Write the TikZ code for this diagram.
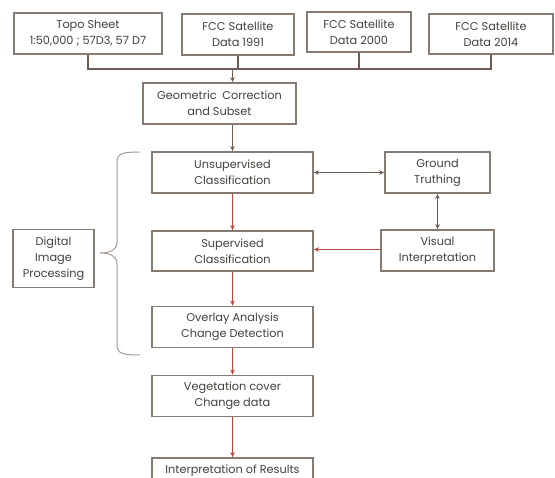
\documentclass[tikz,border=0pt]{standalone}
\usepackage{fontspec}
\setmainfont{Poppins}
\usetikzlibrary{arrows.meta,calc}
\definecolor{boxc}{HTML}{857B72}
\definecolor{linec}{HTML}{6E5C52}
\definecolor{redc}{HTML}{B5473C}
\definecolor{txtc}{HTML}{45403C}
\definecolor{bracec}{HTML}{A39A92}
\tikzset{
  bx/.style={draw=boxc, line width=1.8pt, fill=white, align=center, inner sep=1pt,
    text=txtc, font=\fontsize{11.3}{16}\selectfont},
  conn/.style={draw=linec, line width=1.1pt},
  dk/.style={conn, -{Stealth[length=5pt,width=4.5pt]}},
  dkb/.style={conn, {Stealth[length=5pt,width=4.5pt]}-{Stealth[length=5pt,width=4.5pt]}},
  rd/.style={draw=redc, line width=1pt, -{Stealth[length=5pt,width=4.5pt]}},
}
\begin{document}
\begin{tikzpicture}[x=1pt,y=-1pt]
\useasboundingbox (0,0) rectangle (555,478);
\clip (0,0) rectangle (555,478);
\node[bx, minimum width=148pt, minimum height=41pt] (topo) at (88,33.5) {Topo Sheet\\1:50,000 ; 57D3, 57 D7};
\node[bx, minimum width=112pt, minimum height=41pt] (f91) at (238,34.5) {FCC Satellite\\Data 1991};
\node[bx, minimum width=104pt, minimum height=40pt] (f00) at (359,32) {FCC Satellite\\Data 2000};
\node[bx, minimum width=124pt, minimum height=40pt] (f14) at (491,34) {FCC Satellite\\Data 2014};
\node[bx, minimum width=153pt, minimum height=41pt] (geo) at (219.5,103.5) {Geometric\enspace Correction\\and Subset};
\node[bx, minimum width=161pt, minimum height=41pt] (uns) at (232.5,172.5) {Unsupervised\\Classification};
\node[bx, minimum width=105pt, minimum height=41pt] (gt) at (437.5,172.5) {Ground\\Truthing};
\node[bx, minimum width=161pt, minimum height=40pt] (sup) at (232.5,251) {Supervised\\Classification};
\node[bx, minimum width=113pt, minimum height=41pt] (vis) at (437.5,250.5) {Visual\\Interpretation};
\node[bx, minimum width=161pt, minimum height=41pt] (ovl) at (232.5,327) {Overlay Analysis\\Change Detection};
\node[bx, minimum width=161pt, minimum height=41pt] (veg) at (232.5,396) {Vegetation cover\\Change data};
\node[bx, minimum width=161pt, minimum height=26pt] (res) at (232.5,471) {Interpretation of Results};
\node[bx, minimum width=81pt, minimum height=58pt] (dip) at (53.5,258.5) {Digital\\Image\\Processing};
% top connectors
\coordinate (j) at (232.5,69);
\draw[conn] (topo.south) -- (topo.south |- j) -- (f14.south |- j) -- (f14.south);
\draw[conn] (f91.south) -- (f91.south |- j);
\draw[conn] (f00.south) -- (f00.south |- j);
\draw[dk] (j) -- (j |- geo.north);
\draw[dk] (geo.south -| uns.north) -- (uns.north);
\draw[dkb] (uns.east) -- (gt.west);
\draw[dkb] (gt.south) -- (vis.north -| gt.south);
\draw[rd] (uns.south) -- (sup.north);
\draw[rd] (vis.west |- 0,249.5) -- (sup.east |- 0,249.5);
\draw[rd] (sup.south) -- (ovl.north);
\draw[rd] (ovl.south) -- (veg.north);
\draw[rd] (veg.south) -- (res.north);
% brace
\draw[draw=bracec, line width=1pt] (140,152) .. controls (124,152) and (117,153) .. (117,162)
  -- (117,242) .. controls (117,250) and (110,253) .. (100,253)
  .. controls (110,253) and (117,256) .. (117,264)
  -- (117,345) .. controls (117,354) and (124,355) .. (140,355);
\end{tikzpicture}
\end{document}
